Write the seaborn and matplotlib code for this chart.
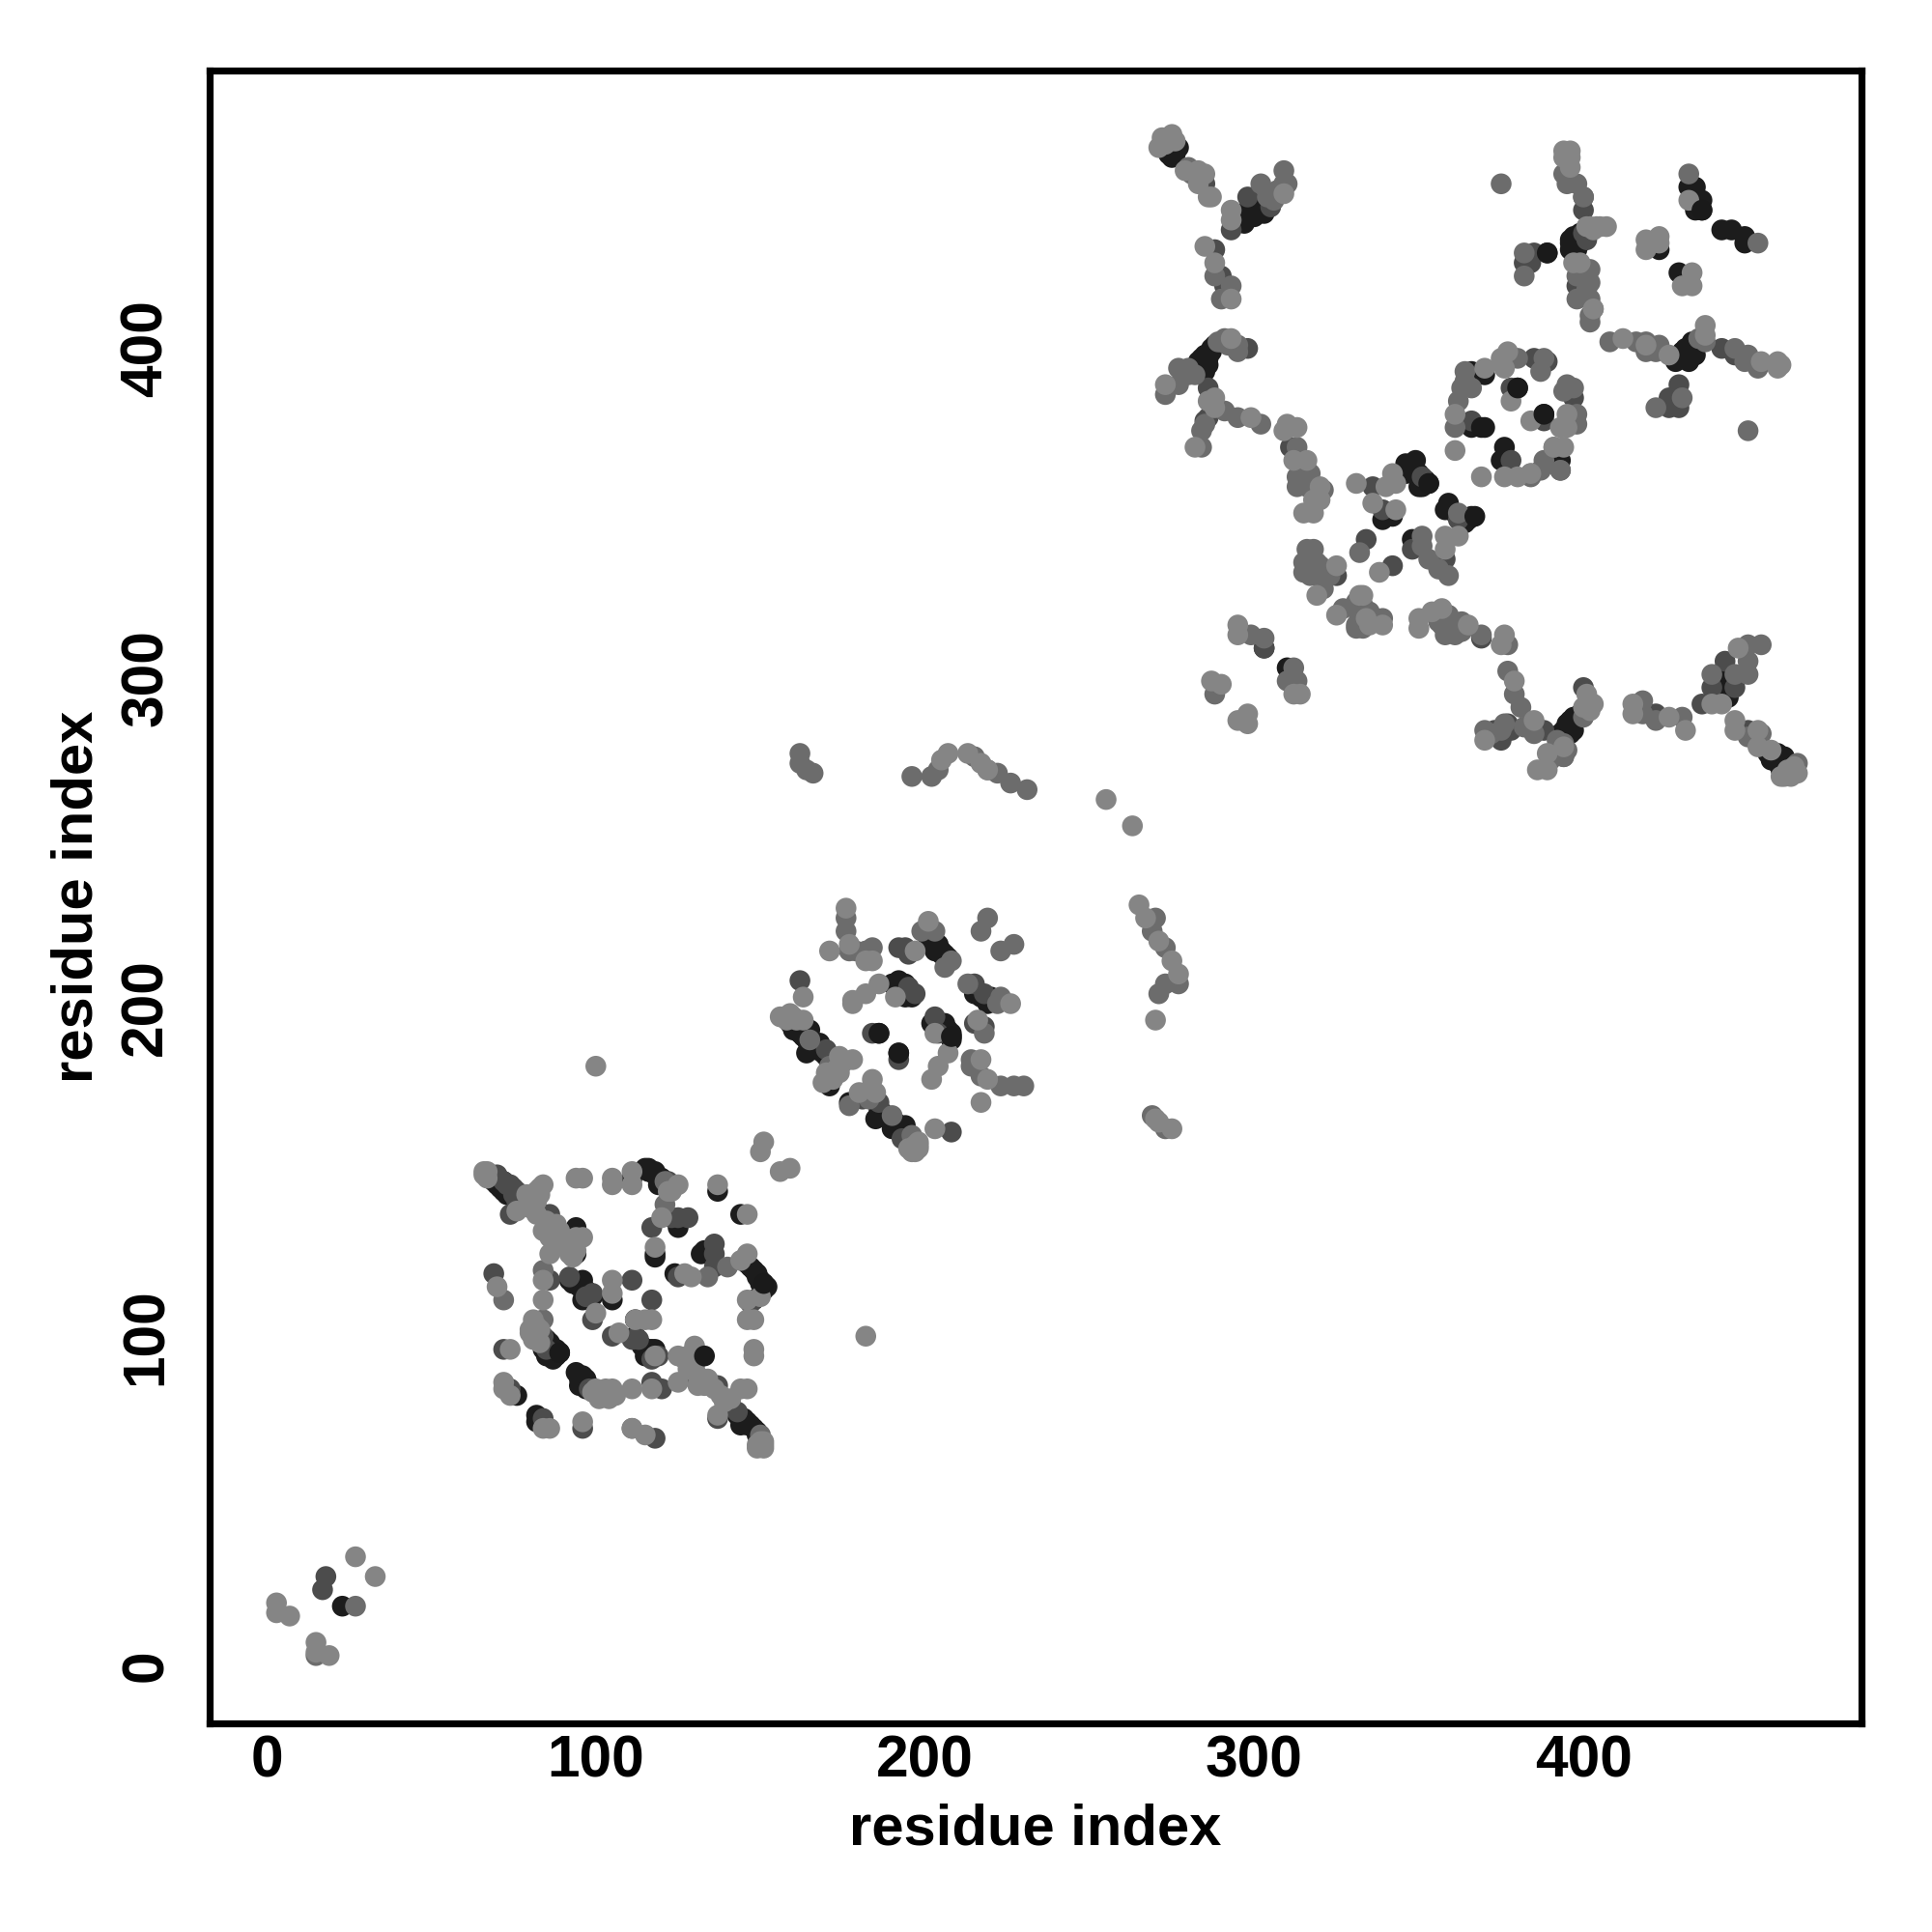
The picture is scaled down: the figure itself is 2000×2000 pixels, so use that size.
import matplotlib
matplotlib.use("Agg")
import matplotlib.pyplot as plt
import pandas as pd
import seaborn as sns

# contacts, grouped by grey level, (residue, residue)
dark_a = [(69,147),(70,146),(71,145),(72,144),(73,143),(71,147),(72,147),(94,133),(94,132),(87,129),(94,125),
          (111,148),(115,151),(116,151),(118,149),(119,148),(117,150),(125,133),(118,125),(118,124),(137,144),
          (144,137),(132,125),(133,126),(124,119),(149,119),(150,117),(151,116),(148,111),(93,116),(96,117),(95,115),
          (96,111),(105,111),(112,105),(84,96),(86,97),(87,95),(89,95),(116,96),(117,96),(115,94),
          (94,89),(95,85),(97,87),(96,88),(76,82),(82,76),(82,74),(145,75),(148,72),(146,73),(144,73),(149,71),
          (68,148),(69,148),(70,147),(72,145),(73,145),(74,144),(73,144),(74,143),(75,142),(72,146),
          (92,117),(94,116),(96,115),(97,114),(98,112),(99,112),(116,150),(118,150),(120,148),(119,146),
          (147,121),(146,122),(148,120),(149,118),(150,116),(151,114),(152,115),
          (85,99),(86,98),(88,96),(88,94),(85,94),(87,93),(95,87),(96,85),(97,84),(98,85),
          (112,100),(114,97),(116,95),(118,96),(143,76),(144,75),(146,74),(147,73),(149,70),(150,69)]
mid_a = [(68,149),(70,149),(72,147),(73,146),(75,145),(76,144),(77,142),(74,137),(84,137),(86,137),
         (123,136),(125,136),(128,136),(117,133),(136,128),(136,125),(136,121),(125,118),(69,119),(86,117),
         (99,113),(99,105),(111,117),(117,111),(72,96),(105,100),(111,99),(113,99),(117,86),(143,77),(141,79),
         (147,110),(96,72),(118,69),(92,118),(84,100),(85,96),(130,87),(137,85),(137,75),(120,84),(98,84),(74,84),(84,75),
         (74,146),(75,143),(76,142),(78,141),(77,140),(76,141),(97,112),(122,147),(119,94),(117,93)]
soft_a = [(121,147),(121,140),(134,118),(140,121),(72,111),(84,120),(84,105),(111,72),(150,70),(130,91)]
light_a = [(66,150),(67,150),(66,149),(67,148),(76,138),(84,146),(82,144),(81,143),(80,141),(81,139),(82,137),
           (88,134),(96,130),(94,130),(92,129),(94,126),(86,130),(84,132),(86,125),(94,148),(96,148),(105,148),(105,146),
           (111,150),(111,146),(123,144),(125,146),(120,136),(118,127),(137,146),(151,159),(150,156),(156,150),(159,151),
           (146,137),(146,125),(144,123),(127,119),(129,118),(150,112),(146,111),(146,105),(148,105),(148,96),(148,94),
           (70,115),(84,117),(84,111),(105,117),(105,113),(100,107),(112,105),(115,105),(117,105),(81,105),(80,101),(74,96),
           (107,101),(118,94),(125,94),(128,94),(130,97),(134,87),(133,85),(138,82),(144,84),(146,84),(137,76),(151,68),(151,66),(149,66),
           (125,86),(117,84),(111,84),(100,84),(101,81),(105,84),(103,82),(106,82),(72,86),(72,84),(74,82),(86,72),(84,72),(96,74),
           (111,72),(115,70),(79,143),(80,139),(83,145),(83,143),(82,141),(85,135),(87,133),(89,132),(90,130),(92,127),(92,125),(89,130),(88,128),(93,124),
           (122,144),(82,103),(83,102),(81,99),(80,102),(83,98),(99,83),(102,83),(104,81),(103,84),
           (127,93),(130,93),(131,88),(131,85),(134,86),(136,84),(139,80),(141,81),(128,90),(151,67),(150,68),(149,67)]

dark_b = [(201,221),(202,219),(204,218),(203,217),(205,216),(207,215),(163,194),(160,193),(165,193),(168,189),(164,186),(172,184),(171,176),
          (177,171),(185,166),(187,168),(191,165),(190,163),(194,164),(190,207),(192,208),(194,207),(194,203),(196,203),
          (215,204),(220,203),(206,195),(202,195),(208,192),(208,190),(186,192),(192,186),
          (159,195),(160,194),(161,193),(162,192),(163,191),(164,190),(166,189),(167,187),(169,186),(170,185),
          (186,169),(188,167),(189,166),(190,165),(192,164),(193,163),(194,162),(195,161),(196,160),
          (204,219),(205,217),(206,216),(207,214),(216,204),(217,203),(218,203),(219,201),(221,202),
          (204,194),(206,193),(207,193),(208,191),(193,206),(195,205),(196,204),(192,206)]
mid_b = [(192,218),(194,218),(195,216),(162,208),(215,207),(218,204),(215,195),(218,194),(203,197),(204,192),(197,204),(195,206),
         (170,187),(193,160),(184,192),(192,184),(208,162),(186,171),(181,172)]
soft_b = [(176,227),(176,223),(177,217),(179,217),(182,217),(184,218),(199,223),(203,223),(208,214),(206,212),(219,227),(217,223),
          (227,219),(223,217),(213,207),(223,203),(222,201),(218,192),(214,184),(214,182),(217,179),(223,176),(227,176),(230,176),
          (165,190),(171,182),(171,178),(177,170),(190,167),(196,161),(270,227),(269,223),(273,218),(277,207),(273,207),(271,204),(269,167),(273,163),
          (162,277),(162,274),(164,272),(166,271),(196,270),(202,270),(204,272),(215,276),(219,272),(222,271),(226,268),(231,266),(182,174),(183,172)]
light_b = [(176,230),(177,219),(171,217),(182,214),(184,214),(197,217),(201,226),(163,203),(178,202),(178,201),(182,204),(186,207),(191,203),
           (226,201),(216,196),(203,192),(207,186),(204,182),(202,178),(217,184),(219,178),(217,171),(203,163),(156,197),(159,198),(161,196),
           (174,185),(178,184),(174,180),(169,177),(180,174),(184,178),(185,174),(198,159),(198,157),(196,156),
           (100,182),(182,100),(255,263),(263,255),(265,231),(267,227),(271,220),(275,214),(277,210),(270,196),(270,166),(271,165),(275,163),
           (205,275),(207,277),(213,277),(217,274),(219,272),(158,196),(160,197),(163,196),(175,183),(173,181),(170,180),(172,178),
           (197,158),(197,156),(195,157),(198,158)]

dark_c = [(274,462),(274,459),(277,461),(298,442),(297,440),(301,443),(300,440),(287,400),(286,398),(285,396),(284,394),(286,397),
          (349,366),(347,364),(346,362),(353,359),(350,358),(339,348),(342,349),(359,353),(358,351),(364,347),(366,349),(362,349),(348,342),
          (275,460),(273,461),(275,458),(276,459),(297,438),(299,441),(300,443),(302,444),(303,441),
          (283,396),(285,398),(284,397),(287,399),(288,401),(286,395),(285,393),
          (344,362),(346,365),(348,364),(350,362),(351,358),(352,360),(359,352),(361,350),(363,348),(365,348)]
mid_c = [(298,446),(293,436),(305,443),(305,447),(285,450),(290,422),(291,419),(298,400),(286,388),(286,379),(285,378),(311,370),(315,359),
         (336,358),(351,361),(339,351),(362,348),(358,336),(334,342),(342,334),(325,331),(348,339),(369,312),(288,430)]
soft_c = [(309,450),(310,450),(309,454),(302,450),(288,422),(293,419),(290,415),(290,402),(295,401),(277,394),(280,394),(273,386),(277,389),
          (291,381),(285,377),(284,375),(284,370),(295,379),(302,377),(313,370),(313,361),(317,362),(315,359),
          (316,339),(318,339),(315,335),(315,332),(318,334),(321,333),(319,331),(321,327),(327,321),(331,321),(331,315),(339,318),
          (359,319),(357,316),(362,316),(359,314),(361,313),(369,313),(377,310),(351,343),(351,340),(353,336),(356,333),(359,331),(332,338),(362,350),
          (280,455),(281,453),(283,452),(306,445),(307,448),(304,446),(289,402),(291,403),(292,401),(295,399),(282,392),(280,392),
          (313,358),(314,360),(316,358),(317,358),(315,362),(316,363),(319,356),(321,357),
          (316,334),(316,332),(317,331),(318,333),(320,334),(322,331),(323,331),(317,336),(319,335),(320,332),
          (331,316),(332,318),(332,320),(333,322),(331,323),(333,315),(335,320),(337,318),
          (356,317),(358,318),(360,317),(358,313),(360,315),(363,314),(363,317)]
light_c = [(275,465),(272,464),(271,461),(279,454),(283,454),(285,453),(283,450),(286,446),(287,446),(293,442),(293,439),(309,447),(285,431),(288,426),
           (293,415),(293,403),(288,385),(286,384),(288,382),(282,370),(273,389),(299,379),(310,377),(313,376),(309,375),(316,366),(312,366),(320,358),(318,354),(320,354),
           (315,350),(318,350),(331,359),(340,358),(343,359),(342,362),(336,353),(343,351),(358,343),(362,343),(358,339),(338,332),(325,334),(319,325),
           (325,319),(332,325),(333,325),(334,318),(335,316),(339,316),(350,318),(350,315),(354,320),(357,321),(365,316),(376,313),(375,310),(276,463),(273,462)]

dark_d = [(399,435),(397,434),(396,432),(398,431),(397,429),(389,429),(432,449),(434,449),(436,445),(436,442),(434,442),(442,436),(445,436),(449,434),(449,432),
          (423,430),(429,423),(431,400),(429,398),(432,396),(434,398),(366,376),(370,376),(366,393),(370,392),(380,388),(388,380),(376,370),(375,366),(393,366),(433,402),
          (396,433),(397,431),(398,433),(399,432),(399,433),(398,430),(396,430),(400,434),(432,397),(430,399),(432,399),(433,398),(430,397),(428,396)]
mid_d = [(398,419),(400,446),(400,442),(400,435),(385,429),(384,426),(382,426),(429,389),(426,385),(426,382),(429,382),(442,400),(446,398),
         (366,378),(378,388),(385,397),(389,396),(397,385),(388,378),(378,366),(393,363),(401,433)]
soft_d = [(375,450),(394,453),(398,450),(395,450),(400,446),(402,424),(398,422),(402,420),(401,416),(402,408),(382,429),(382,422),(432,453),(453,432),
          (408,402),(416,402),(419,402),(419,399),(423,401),(422,399),(437,402),(435,403),(446,400),(450,398),(449,396),(453,394),(430,385),(422,382),(450,375),
          (364,393),(364,390),(366,388),(363,388),(362,384),(361,376),(380,397),(388,397),(387,393),(395,389),(397,388),(394,387),(398,380),(398,377),
          (391,370),(388,366),(387,363),(384,362),(384,361),(393,363),(398,415),(402,415),(403,412),(402,410),(401,418)]
light_d = [(394,460),(396,460),(394,458),(396,458),(396,455),(407,437),(404,437),(402,437),(399,426),(397,426),(403,412),(432,445),(419,433),(423,434),(419,430),
           (423,432),(433,423),(430,419),(433,419),(437,407),(437,404),(426,398),(412,403),(419,401),(454,396),(459,396),(460,395),(459,394),
           (370,394),(361,380),(361,369),(369,361),(375,397),(377,399),(376,394),(378,384),(384,378),(393,376),(395,376),(395,380),(391,370),(394,370),(376,361),(380,361),(384,362),
           (403,436),(405,437),(401,437)]

dark_e = [(23,18)]
mid_e = [(17,23),(18,27)]
soft_e = [(15,3),(27,18)]
light_e = [(3,19),(3,16),(7,15),(15,7),(15,4),(19,3),(27,33),(33,27)]

dark_f = [(310,303),(303,309),(397,288),(395,286),(394,284),(397,284),(396,284),(442,301),(442,297),(459,277),(458,276),(461,276),(460,273),
          (393,283),(395,285),(396,287),(398,288),(399,289),(396,283),(441,301),(440,298),(443,303),(443,299),(445,297),(441,295),(444,294),
          (456,277),(457,275),(459,274),(460,272),(461,274),(462,271)]
mid_f = [(303,309),(388,284),(400,297),(422,289),(436,292),(443,305),(446,297),(439,297),(450,284),(377,286),(378,284),(375,281),(373,284)]
soft_f = [(299,313),(303,312),(312,303),(310,299),(313,299),(288,295),(377,302),(379,295),(381,291),(370,284),(375,284),(418,293),(418,289),(422,287),(430,288),
          (439,301),(446,301),(450,310),(454,310),(450,305),(450,301),(450,282),(454,283),(465,274),(394,276),(400,288),(376,286),(372,283),(382,285),(385,283),
          (392,281),(394,280),(395,278),(394,276),(392,278),(390,275)]
light_f = [(295,316),(295,313),(314,295),(312,295),(287,299),(290,298),(298,289),(298,286),(295,287),(379,299),(385,287),(370,281),(403,292),(400,291),(394,279),(389,277),
           (386,272),(389,272),(415,292),(415,289),(426,288),(431,284),(439,292),(442,292),(447,309),(446,287),(446,284),(453,284),(453,279),(457,278),(462,272),(461,270),(465,271),
           (401,292),(401,295),(402,290),(464,273),(463,270),(460,270)]

# a few dark contacts that sit over the lighter ones
top_pts = [(89,95),(133,94),(151,116),(186,192),(192,186),(208,191),(353,359),(367,349),(369,376),(389,429),(380,388),(388,380),(436,442)]

tone_lists = [
    ("dark", dark_a + dark_b + dark_c + dark_d + dark_e + dark_f),
    ("mid", mid_a + mid_b + mid_c + mid_d + mid_e + mid_f),
    ("soft", soft_a + soft_b + soft_c + soft_d + soft_e + soft_f),
    ("light", light_a + light_b + light_c + light_d + light_e + light_f),
    ("top", top_pts),
]
tone_colors = {"dark": "#1c1c1c", "mid": "#4c4c4c", "soft": "#6c6c6c", "light": "#858585", "top": "#1a1a1a"}

rows = [(x, y, name) for name, pts in tone_lists for x, y in pts]
df = pd.DataFrame(rows, columns=["x", "y", "tone"])

sns.set_theme(style="white")
plt.rcParams["font.family"] = ["Liberation Sans", "DejaVu Sans"]
plt.rcParams["font.weight"] = "bold"

fig = plt.figure(figsize=(10, 10), dpi=200)
ax = fig.add_axes([216.7 / 2000, 1 - 1783.7 / 2000, (1927.5 - 216.7) / 2000, (1783.7 - 72.7) / 2000])

sns.scatterplot(data=df, x="x", y="y", hue="tone", palette=tone_colors, s=60, linewidth=0, legend=False, ax=ax)

ax.set_xlim(-17.4, 484.6)
ax.set_ylim(-17.5, 484.5)
ax.set_xticks([0, 100, 200, 300, 400])
ax.set_yticks([0, 100, 200, 300, 400])
ax.tick_params(axis="x", length=3.4, width=1.1, color="black", labelsize=21.8, labelcolor="black", pad=1)
ax.tick_params(axis="y", length=3.4, width=1.1, color="black", labelsize=21.8, labelcolor="black", pad=9.5)
for t in ax.get_yticklabels():
    t.set_rotation(90)
    t.set_va("center")
for s in ax.spines.values():
    s.set_linewidth(2.6)
    s.set_color("black")
ax.set_xlabel("residue index", fontsize=21.5, fontweight="bold", color="black", labelpad=5)
ax.set_ylabel("residue index", fontsize=21.5, fontweight="bold", color="black", labelpad=6)

fig.savefig("out.png", dpi=200, facecolor="white")
